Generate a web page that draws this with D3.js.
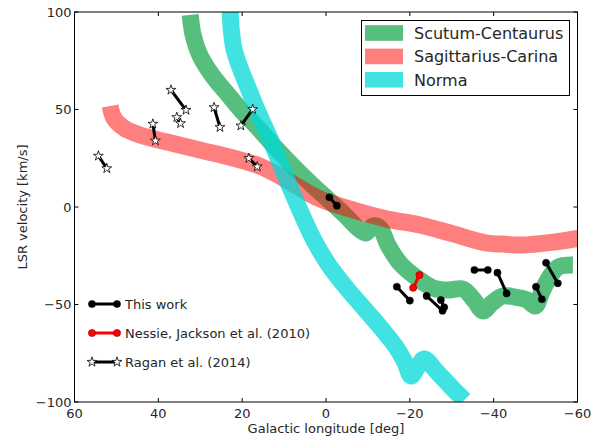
<!DOCTYPE html>
<html>
<head>
<meta charset="utf-8">
<script src="https://cdn.jsdelivr.net/npm/d3@7"></script>
<style>
  body { margin: 0; background: #fff; }
  text { font-family: "DejaVu Sans", sans-serif; }
</style>
</head>
<body>
<div id="viz"></div>
<script>
// Spiral arm tracks in (l, v) space plus the filament end points.
// l = Galactic longitude [deg], v = LSR velocity [km/s]

var scutumCentaurus = [
    [32.4, 98.5], [31.7, 88.2], [30.1, 77.9], [27.2, 67.7], [23.9, 59.0],
    [20.3, 49.7], [16.2, 40.5], [12.2, 30.8], [7.9, 21.0], [3.3, 11.3],
    [-0.9, 3.1], [-4.5, -4.1], [-7.6, -10.8], [-9.5, -13.3], [-11.2, -9.7],
    [-12.9, -10.8], [-14.8, -19.5], [-17.6, -28.7], [-21.7, -36.4], [-25.5, -41.5],
    [-28.9, -42.6], [-32.7, -42.1], [-35.3, -47.7], [-37.5, -53.3], [-39.6, -49.2],
    [-42.2, -45.6], [-45.1, -46.2], [-48.0, -47.7], [-49.9, -50.8], [-51.5, -43.6],
    [-53.2, -36.4], [-55.4, -30.8], [-58.9, -29.7]
];
var sagittariusCarina = [
    [51.5, 51.8], [50.6, 45.6], [48.2, 40.5], [44.4, 36.9], [37.9, 33.3],
    [30.1, 29.2], [22.2, 25.1], [15.8, 21.0], [11.0, 15.9], [6.2, 9.7],
    [1.4, 4.1], [-6.4, -1.5], [-14.6, -6.2], [-22.4, -9.2], [-30.3, -13.8],
    [-38.4, -18.5], [-42.2, -19.0], [-46.3, -19.5], [-54.2, -18.0], [-60.5, -15.9]
];
var norma = [
    [22.9, 103.6], [22.6, 90.8], [21.9, 80.5], [20.3, 70.3], [18.1, 58.5],
    [15.7, 46.2], [12.9, 32.8], [10.3, 19.0], [8.1, 7.7], [5.7, -4.1],
    [2.9, -16.9], [-0.5, -29.2], [-4.5, -40.5], [-8.8, -51.3], [-12.9, -61.5],
    [-16.7, -71.8], [-18.8, -79.5], [-20.3, -86.7], [-21.7, -82.6], [-23.4, -78.0],
    [-26.5, -84.6], [-30.1, -92.8], [-33.0, -99.0]
];

// filament end point pairs
var thisWork = [
    [[-0.8, 5.0], [-2.6, 0.7]],
    [[-16.9, -40.9], [-20.0, -48.0]],
    [[-24.0, -45.6], [-27.8, -53.2]],
    [[-27.4, -47.7], [-28.2, -51.4]],
    [[-35.4, -32.3], [-38.6, -32.3]],
    [[-40.9, -33.7], [-43.1, -44.3]],
    [[-50.1, -40.9], [-51.5, -47.3]],
    [[-52.5, -28.6], [-55.3, -39.1]]
];
var nessie = [
    [[-22.3, -34.9], [-20.8, -41.4]]
];
var ragan = [
    [[54.3, 26.2], [52.3, 19.8]],
    [[41.3, 42.6], [40.7, 34.0]],
    [[37.0, 60.0], [33.4, 49.7]],
    [[35.6, 46.0], [34.7, 42.9]],
    [[26.7, 51.1], [25.3, 40.9]],
    [[20.3, 41.7], [17.5, 50.1]],
    [[18.4, 25.0], [16.4, 20.7]]
];

var armNames = ["Scutum-Centaurus", "Sagittarius-Carina", "Norma"];
var refNames = ["This work", "Nessie, Jackson et al. (2010)", "Ragan et al. (2014)"];
var xTicks = [60, 40, 20, 0, -20, -40, -60];
var yTicks = [-100, -50, 0, 50, 100];

var W = 593, H = 443;
var plotLeft = 74.5, plotRight = 577.5, plotTop = 12, plotBottom = 402;

var arms = [
    {name: armNames[0], data: scutumCentaurus, color: "#57bf7d", opacity: 1.0},
    {name: armNames[1], data: sagittariusCarina, color: "#ff0000", opacity: 0.5},
    {name: armNames[2], data: norma, color: "#00d8d8", opacity: 0.75}
];

function main() {
    var svg = d3.select("#viz")
        .append("svg")
        .attr("width", W)
        .attr("height", H);

    var x = d3.scaleLinear().domain([60, -60]).range([plotLeft, plotRight]);
    var y = d3.scaleLinear().domain([-100, 100]).range([plotBottom, plotTop]);

    svg.append("clipPath").attr("id", "plotclip")
        .append("rect")
        .attr("x", plotLeft).attr("y", plotTop)
        .attr("width", plotRight - plotLeft).attr("height", plotBottom - plotTop);

    var line = d3.line()
        .x(function(d) { return x(d[0]); })
        .y(function(d) { return y(d[1]); })
        .curve(d3.curveCatmullRom.alpha(0.5));

    var plot = svg.append("g").attr("clip-path", "url(#plotclip)");

    // the arm bands
    arms.forEach(function(arm) {
        plot.append("path")
            .datum(arm.data)
            .attr("d", line)
            .attr("fill", "none")
            .attr("stroke", arm.color)
            .attr("stroke-opacity", arm.opacity)
            .attr("stroke-width", 17)
            .attr("stroke-linejoin", "round")
            .attr("stroke-linecap", "butt");
    });

    var straight = d3.line()
        .x(function(d) { return x(d[0]); })
        .y(function(d) { return y(d[1]); });
    var star = d3.symbol().type(d3.symbolStar).size(30);

    function add_pairs(pairs, lineColor, marker) {
        var g = plot.append("g");
        pairs.forEach(function(p) {
            g.append("path")
                .attr("d", straight(p))
                .attr("stroke", lineColor)
                .attr("stroke-width", 3)
                .attr("fill", "none");
            p.forEach(function(pt) { marker(g, x(pt[0]), y(pt[1])); });
        });
    }

    function dot_black(g, px, py) {
        g.append("circle").attr("cx", px).attr("cy", py).attr("r", 3.6)
            .attr("fill", "#000").attr("stroke", "#000").attr("stroke-width", 0.5);
    }
    function dot_red(g, px, py) {
        g.append("circle").attr("cx", px).attr("cy", py).attr("r", 3.6)
            .attr("fill", "#ff0000").attr("stroke", "#8b0000").attr("stroke-width", 0.6);
    }
    function star_white(g, px, py) {
        g.append("path").attr("d", star)
            .attr("transform", "translate(" + px + "," + py + ")")
            .attr("fill", "#fff").attr("stroke", "#000").attr("stroke-width", 0.8);
    }

    add_pairs(ragan, "#000", star_white);
    add_pairs(thisWork, "#000", dot_black);
    add_pairs(nessie, "#ff0000", dot_red);

    // frame and ticks (inward, all four sides)
    var axes = svg.append("g");
    axes.append("rect")
        .attr("x", plotLeft).attr("y", plotTop)
        .attr("width", plotRight - plotLeft).attr("height", plotBottom - plotTop)
        .attr("fill", "none").attr("stroke", "#000").attr("stroke-width", 1);

    xTicks.forEach(function(t) {
        axes.append("line").attr("x1", x(t)).attr("x2", x(t))
            .attr("y1", plotBottom).attr("y2", plotBottom - 4).attr("stroke", "#000");
        axes.append("line").attr("x1", x(t)).attr("x2", x(t))
            .attr("y1", plotTop).attr("y2", plotTop + 4).attr("stroke", "#000");
        axes.append("text")
            .attr("x", x(t)).attr("y", plotBottom + 16)
            .attr("text-anchor", "middle")
            .attr("font-size", 13)
            .attr("fill", "#262626")
            .text(d3.format("d")(t));
    });
    yTicks.forEach(function(t) {
        axes.append("line").attr("x1", plotLeft).attr("x2", plotLeft + 4)
            .attr("y1", y(t)).attr("y2", y(t)).attr("stroke", "#000");
        axes.append("line").attr("x1", plotRight).attr("x2", plotRight - 4)
            .attr("y1", y(t)).attr("y2", y(t)).attr("stroke", "#000");
        axes.append("text")
            .attr("x", plotLeft - 3).attr("y", y(t) + 4.5)
            .attr("text-anchor", "end")
            .attr("font-size", 13)
            .attr("fill", "#262626")
            .text(d3.format("d")(t));
    });

    axes.append("text")
        .attr("x", (plotLeft + plotRight) / 2).attr("y", 433)
        .attr("text-anchor", "middle")
        .attr("font-size", 13)
        .attr("fill", "#262626")
        .text("Galactic longitude [deg]");
    axes.append("text")
        .attr("transform", "translate(27," + ((plotTop + plotBottom) / 2) + ") rotate(-90)")
        .attr("text-anchor", "middle")
        .attr("font-size", 13)
        .attr("fill", "#262626")
        .text("LSR velocity [km/s]");

    // arm legend, top right
    var leg = svg.append("g");
    leg.append("rect")
        .attr("x", 361.5).attr("y", 20.5).attr("width", 208).attr("height", 75)
        .attr("fill", "#fff").attr("stroke", "#000").attr("stroke-width", 1);
    arms.forEach(function(arm, i) {
        var cy = 33 + i * 23.4;
        leg.append("rect")
            .attr("x", 365).attr("y", cy - 7.8).attr("width", 38).attr("height", 15.6)
            .attr("fill", arm.color).attr("fill-opacity", arm.opacity);
        leg.append("text")
            .attr("x", 414).attr("y", cy + 6)
            .attr("font-size", 16)
            .attr("fill", "#262626")
            .text(arm.name);
    });

    // reference legend, lower left
    var leg2 = svg.append("g");
    var refStyle = [
        {color: "#000", marker: dot_black},
        {color: "#ff0000", marker: dot_red},
        {color: "#000", marker: star_white}
    ];
    refNames.forEach(function(name, i) {
        var cy = 304 + i * 29;
        leg2.append("line")
            .attr("x1", 92).attr("x2", 117).attr("y1", cy).attr("y2", cy)
            .attr("stroke", refStyle[i].color).attr("stroke-width", 3);
        refStyle[i].marker(leg2, 92, cy);
        refStyle[i].marker(leg2, 117, cy);
        leg2.append("text")
            .attr("x", 125).attr("y", cy + 4.5)
            .attr("font-size", 13)
            .attr("fill", "#262626")
            .text(name);
    });
}

main();
</script>
</body>
</html>
